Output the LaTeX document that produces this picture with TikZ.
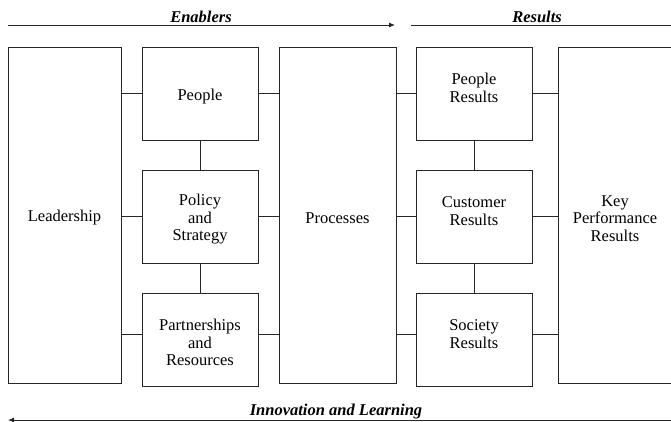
\documentclass[tikz,border=0pt]{standalone}
\usepackage{fontspec}
\setmainfont{Liberation Serif}
\usetikzlibrary{arrows.meta}
% an empty first row that lowers a label a little inside its box
\newcommand\padtop{\mbox{}\\}
\begin{document}
\begin{tikzpicture}[x=1pt,y=-1pt,
  box/.style={draw=black!85,line width=0.9pt,fill=white,align=center,
    font=\fontsize{16.5}{17.5}\selectfont,inner sep=0pt},
  tall/.style={box,minimum height=336pt},
  cell/.style={box,minimum width=116pt,minimum height=93pt},
  link/.style={draw=black!85,line width=0.9pt},
  flow/.style={draw=black!85,line width=0.9pt},
  title/.style={font=\fontsize{16.5}{18}\selectfont\bfseries\itshape}]
\clip (0,0) rectangle (671,422);
\fill[white] (0,0) rectangle (671,422);

% enablers column
\node[tall,minimum width=113pt] (lead) at (64.5,215) {\padtop Leadership};
\node[cell] (ppl) at (200,93.5) {\padtop People};
\node[cell] (pol) at (200,216.5) {\padtop Policy\\and\\Strategy};
\node[cell] (par) at (200,339.5) {\padtop Partnerships\\and\\Resources};
\node[tall,minimum width=117pt] (proc) at (337.5,215) {\padtop Processes};

% results column (two-line labels sit slightly above the middle)
\node[cell] (pres) at (474,93.5) {\padtop People\\Results\\[-5.5pt]\strut};
\node[cell] (cres) at (474,216.5) {\padtop Customer\\Results\\[-5.5pt]\strut};
\node[cell] (sres) at (474,339.5) {\padtop Society\\Results\\[-5.5pt]\strut};
\node[tall,minimum width=114pt] (kpr) at (615,215) {\padtop Key\\Performance\\Results};

% horizontal links
\draw[link] (lead.east |- ppl.west) -- (ppl.west);
\draw[link] (lead.east |- pol.west) -- (pol.west);
\draw[link] ([yshift=5.5pt]lead.east |- par.west) -- ([yshift=5.5pt]par.west);
\draw[link] (ppl.east) -- (proc.west |- ppl.east);
\draw[link] (pol.east) -- (proc.west |- pol.east);
\draw[link] ([yshift=5.5pt]par.east) -- ([yshift=5.5pt]proc.west |- par.east);
\draw[link] (proc.east |- pres.west) -- (pres.west);
\draw[link] (proc.east |- cres.west) -- (cres.west);
\draw[link] ([yshift=5.5pt]proc.east |- sres.west) -- ([yshift=5.5pt]sres.west);
\draw[link] (pres.east) -- (kpr.west |- pres.east);
\draw[link] (cres.east) -- (kpr.west |- cres.east);
\draw[link] ([yshift=5.5pt]sres.east) -- ([yshift=5.5pt]kpr.west |- sres.east);

% vertical links
\draw[link] (ppl.south) -- (pol.north);
\draw[link] (pol.south) -- (par.north);
\draw[link] (pres.south) -- (cres.north);
\draw[link] (cres.south) -- (sres.north);

% flow arrows and headings
\coordinate (e1) at (8,25);
\coordinate (e2) at (395,25);
\coordinate (r1) at (411,25);
\coordinate (r2) at (680,25);
\coordinate (i1) at (680,420);
\coordinate (i2) at (8,420);
\draw[flow,-{Latex[length=6pt,width=5pt]}] (e1) -- (e2);
\draw[flow] (r1) -- (r2);
\draw[flow,-{Latex[length=6pt,width=5pt]}] (i1) -- (i2);
\node[title] (ten) at (201,16.5) {Enablers};
\node[title] (tres) at (537,16.5) {Results};
\node[title] (tinn) at (336,411.5) {Innovation and Learning};
\end{tikzpicture}
\end{document}
